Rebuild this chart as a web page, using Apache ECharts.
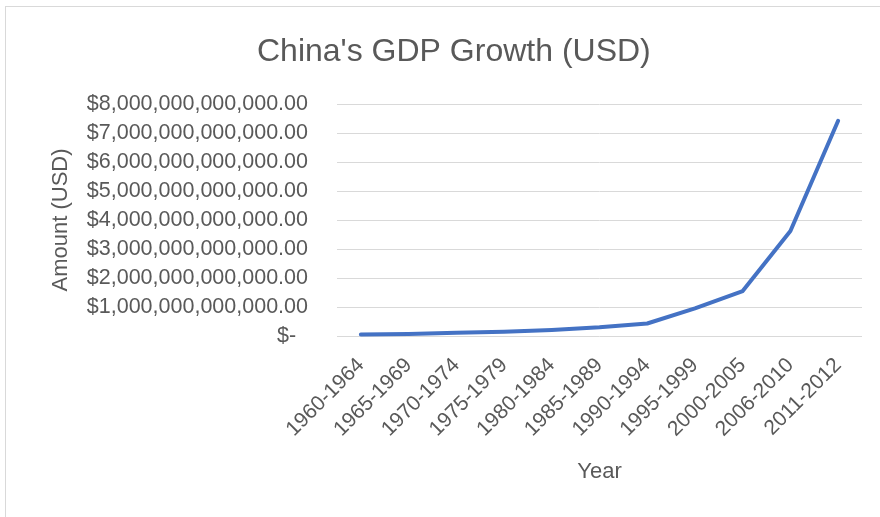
<!DOCTYPE html>
<html>
<head>
<meta charset="utf-8">
<script src="https://cdn.jsdelivr.net/npm/echarts@6/dist/echarts.min.js"></script>
<style>
  html, body { margin: 0; padding: 0; background: #fff; }
  #frame { position: absolute; left: 5px; top: 6px; width: 900px; height: 530px; border: 1px solid #d9d9d9; }
  #chart { position: absolute; left: 0; top: 0; width: 880px; height: 517px; }
</style>
</head>
<body>
<div id="frame"></div>
<div id="chart"></div>
<script>
// 数据
const periods = ['1960-1964', '1965-1969', '1970-1974', '1975-1979', '1980-1984', '1985-1989',
  '1990-1994', '1995-1999', '2000-2005', '2006-2010', '2011-2012'];
// 单位：万亿美元
const gdpTrillions = [0.05, 0.07, 0.11, 0.15, 0.21, 0.30, 0.43, 0.95, 1.55, 3.62, 7.42];
const gdpValues = gdpTrillions.map(v => v * 1e12);

const fontFamily = '"Liberation Sans", Arial, sans-serif';
const textColor = '#595959';

const chart = echarts.init(document.getElementById('chart'));

chart.setOption({
  backgroundColor: 'transparent',
  animation: false,
  title: {
    text: "China's GDP Growth (USD)",
    left: 252,
    top: 31,
    textStyle: {
      color: textColor,
      fontFamily: fontFamily,
      fontSize: 32,
      fontWeight: 'normal'
    }
  },
  grid: {
    left: 337,
    right: 18,
    top: 104,
    bottom: 181,
    containLabel: false
  },
  xAxis: {
    type: 'category',
    data: periods,
    boundaryGap: true,
    name: 'Year',
    nameLocation: 'middle',
    nameGap: 125,
    nameTextStyle: { color: textColor, fontFamily: fontFamily, fontSize: 22 },
    axisLine: { show: false },
    axisTick: { show: false },
    axisLabel: {
      rotate: 45,
      interval: 0,
      margin: 26,
      color: textColor,
      fontFamily: fontFamily,
      fontSize: 21
    }
  },
  yAxis: {
    type: 'value',
    min: 0,
    max: 8e12,
    interval: 1e12,
    name: 'Amount (USD)',
    nameLocation: 'middle',
    nameGap: 265,
    nameTextStyle: { color: textColor, fontFamily: fontFamily, fontSize: 22 },
    axisLine: { show: false },
    axisTick: { show: false },
    axisLabel: {
      margin: 29,
      color: textColor,
      fontFamily: fontFamily,
      fontSize: 21.5,
      formatter: function(value) {
        if (value === 0) return '$-  ';
        return '$' + value.toLocaleString('en-US', { minimumFractionDigits: 2, maximumFractionDigits: 2 });
      }
    },
    splitLine: { lineStyle: { color: '#d9d9d9', width: 1 } }
  },
  series: [{
    name: 'GDP',
    type: 'line',
    data: gdpValues,
    symbol: 'none',
    lineStyle: { color: '#4472c4', width: 4, cap: 'round', join: 'round' }
  }]
});
</script>
</body>
</html>
